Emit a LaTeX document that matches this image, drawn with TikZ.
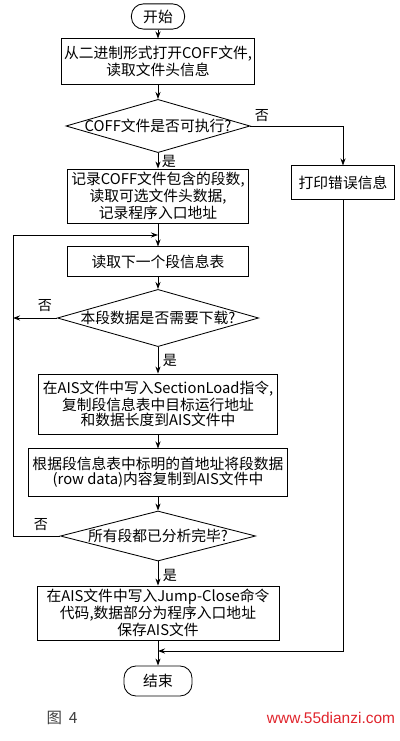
\documentclass[tikz,border=0pt]{standalone}
\usepackage{fontspec}
\usepackage{tikz}
\usetikzlibrary{calc,positioning,shapes.geometric,arrows.meta}
\newfontfamily\cjk{Noto Sans CJK SC}
\newfontfamily\webfont{Liberation Sans}
\usepackage{xcolor}
\definecolor{marca}{HTML}{E0242C}

\begin{document}
\begin{tikzpicture}[x=0.025cm,y=-0.025cm,
  every node/.style={font=\cjk\fontsize{10.5}{10.7}\selectfont},
  caja/.style={draw,line width=0.6pt,align=center,inner sep=2pt},
  inicio/.style={caja,rounded corners=0.3cm},
  decision/.style={draw,line width=0.6pt,diamond,inner sep=0pt},
  flecha/.style={line width=0.6pt,-{Stealth[length=5pt,width=3.6pt]}},
  linea/.style={line width=0.6pt},
  rama/.style={font=\cjk\fontsize{10}{10}\selectfont,inner sep=1pt}]
\useasboundingbox (0,0) rectangle (400,741);

%====================================================
% BLOQUES DEL DIAGRAMA
%====================================================
\node[inicio,minimum width=1.33cm,minimum height=0.63cm] (start) at (158,16.5) {开始};
\node[caja,minimum width=4.55cm,minimum height=1.13cm] (open) at (158,61.5)
  {从二进制形式打开COFF文件,\\读取文件头信息};
\node[decision,minimum width=4.6cm,minimum height=1.33cm,
  label=center:{COFF文件是否可执行?}] (isexec) at (158,126) {};
\node[caja,minimum width=4.53cm,minimum height=1.35cm] (rec) at (158,196)
  {记录COFF文件包含的段数,\\读取可选文件头数据,\\记录程序入口地址};
\node[caja,minimum width=2.58cm,minimum height=0.83cm] (err) at (343,182.5) {打印错误信息};
\node[caja,minimum width=4.53cm,minimum height=0.73cm] (next) at (158,261.5) {读取下一个段信息表};
\node[decision,minimum width=5.03cm,minimum height=1.43cm,
  label=center:{本段数据是否需要下载?}] (need) at (158,318) {};
\node[caja,minimum width=5.98cm,minimum height=1.5cm] (write) at (158,404)
  {在AIS文件中写入SectionLoad指令,\\复制段信息表中目标运行地址\\和数据长度到AIS文件中};
\node[caja,minimum width=6.48cm,minimum height=1.18cm] (copy) at (158,472.5)
  {根据段信息表中标明的首地址将段数据\\(row data)内容复制到AIS文件中};
\node[decision,minimum width=4.88cm,minimum height=1.25cm,
  label=center:{所有段都已分析完毕?}] (alldone) at (158,536) {};
\node[caja,minimum width=6.05cm,minimum height=1.35cm] (jump) at (158,613)
  {在AIS文件中写入Jump-Close命令\\代码,数据部分为程序入口地址\\保存AIS文件};
\node[inicio,minimum width=1.7cm,minimum height=0.75cm] (end) at (158,681) {结束};

\coordinate (loopin) at (158,235);
\coordinate (merge) at (158,651);
\coordinate (skip) at (13,318);

%====================================================
% CONECTORES
%====================================================
\draw[flecha] (start) -- (open);
\draw[flecha] (open) -- (isexec);
\draw[flecha] (isexec.east) -| (err.north);
\draw[flecha] (isexec) -- (rec);
\draw[flecha] (rec) -- (next);
\draw[flecha] (next) -- (need);
\draw[flecha] (need.west) -- (skip);
\draw[flecha] (need) -- (write);
\draw[flecha] (write) -- (copy);
\draw[flecha] (copy) -- (alldone);
\draw[flecha] (alldone.west) -- (13,536) |- (loopin);
\draw[flecha] (alldone) -- (jump);
\draw[flecha] (jump) -- (end);
\draw[flecha] (err.south) |- (merge);

\node[rama] (no1) at (262,116) {否};
\node[rama] (si1) at (169,161) {是};
\node[rama] (no2) at (45,306) {否};
\node[rama] (si2) at (170,360) {是};
\node[rama] (no3) at (41,525) {否};
\node[rama] (si3) at (170,575) {是};

%====================================================
% PIE DE FIGURA
%====================================================
\node[font=\cjk\fontsize{11}{11}\selectfont,text=black!75] (fig) at (62,718) {图\ \ 4};
\node[font=\webfont\fontsize{11}{11}\selectfont,text=marca] (web) at (331,718) {www.55dianzi.com};
\end{tikzpicture}
\end{document}
